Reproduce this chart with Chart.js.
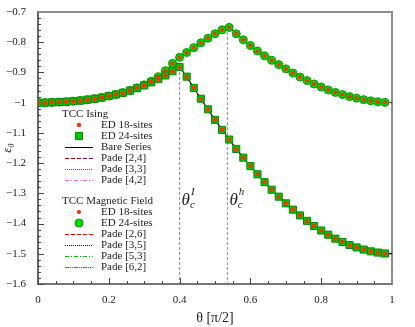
<!DOCTYPE html>
<html>
<head>
<meta charset="utf-8">
<script src="https://cdn.jsdelivr.net/npm/chart.js@4.4.1/dist/chart.umd.min.js"></script>
<style>
html, body { margin: 0; padding: 0; background: #fff; }
#wrap { width: 415px; height: 327px; }
</style>
</head>
<body>
<div id="wrap"><canvas id="chart"></canvas></div>
<script>
// theta in units of pi/2
var theta = [0, 0.02, 0.04, 0.06, 0.08, 0.1, 0.12, 0.14, 0.16, 0.18,
    0.2, 0.22, 0.24, 0.26, 0.28, 0.3, 0.32, 0.34, 0.36, 0.38,
    0.4, 0.42, 0.44, 0.46, 0.48, 0.5, 0.52, 0.54, 0.56, 0.58,
    0.6, 0.62, 0.64, 0.66, 0.68, 0.7, 0.72, 0.74, 0.76, 0.78,
    0.8, 0.82, 0.84, 0.86, 0.88, 0.9, 0.92, 0.94, 0.96, 0.98, 1];

// ground state energy, TCC Ising
var isingE = [-1.000, -1.000, -0.999, -0.998, -0.997, -0.995, -0.993, -0.990, -0.987, -0.983,
    -0.978, -0.973, -0.967, -0.960, -0.952, -0.943, -0.933, -0.922, -0.910, -0.896,
    -0.882, -0.914, -0.951, -0.987, -1.022, -1.057, -1.090, -1.122, -1.153, -1.182,
    -1.210, -1.237, -1.263, -1.288, -1.311, -1.333, -1.354, -1.373, -1.391, -1.408,
    -1.423, -1.437, -1.450, -1.461, -1.471, -1.479, -1.486, -1.492, -1.496, -1.499, -1.500];

// ground state energy, TCC magnetic field
var fieldE = [-1.000, -1.000, -0.999, -0.998, -0.997, -0.995, -0.993, -0.990, -0.987, -0.983,
    -0.978, -0.973, -0.967, -0.960, -0.951, -0.941, -0.929, -0.914, -0.894, -0.870,
    -0.850, -0.834, -0.818, -0.802, -0.787, -0.772, -0.759, -0.751, -0.772, -0.792,
    -0.811, -0.829, -0.845, -0.860, -0.874, -0.888, -0.902, -0.915, -0.927, -0.938,
    -0.948, -0.958, -0.966, -0.973, -0.980, -0.985, -0.990, -0.994, -0.997, -0.999, -1.000];

var nED = 50; // ED points stop at 0.98
var thetaCrit = [0.4, 0.535];
var energyCrit = [-0.882, -0.75];
var critNames = ['I', 'h'];

var isingLabels = ['ED 18-sites', 'ED 24-sites', 'Bare Series', 'Pade [2,4]', 'Pade [3,3]', 'Pade [4,2]'];
var fieldLabels = ['ED 18-sites', 'ED 24-sites', 'Pade [2,6]', 'Pade [3,5]', 'Pade [5,3]', 'Pade [6,2]'];

var xTicks = [0, 0.2, 0.4, 0.6, 0.8, 1];
var yTicks = [-0.7, -0.8, -0.9, -1, -1.1, -1.2, -1.3, -1.4, -1.5, -1.6];

var serif = "'Liberation Serif', 'DejaVu Serif', serif";

function pts(ys, n) {
    var out = [];
    for (var i = 0; i < n; i++) out.push({ x: theta[i], y: ys[i] });
    return out;
}

function edSet(label, group, ys, style, r, fill, border) {
    return {
        label: label, group: group, data: pts(ys, nED), showLine: false,
        pointStyle: style, pointRadius: r, pointBackgroundColor: fill,
        pointBorderColor: border, pointBorderWidth: 1, order: r > 3 ? 5 : 2
    };
}

function lineSet(label, group, ys, color, dash) {
    return {
        label: label, group: group, data: pts(ys, theta.length), showLine: true,
        borderColor: color, borderWidth: 1, borderDash: dash, pointRadius: 0,
        fill: false, order: 6
    };
}

var datasets = [
    edSet(isingLabels[0], 'TCC Ising', isingE, 'rect', 2, '#ff3000', '#ff3000'),
    edSet(isingLabels[1], 'TCC Ising', isingE, 'rect', 5, '#00c800', '#008a00'),
    lineSet(isingLabels[2], 'TCC Ising', isingE, '#000000', []),
    lineSet(isingLabels[3], 'TCC Ising', isingE, '#a00000', [4, 2]),
    lineSet(isingLabels[4], 'TCC Ising', isingE, '#009a00', [1, 1]),
    lineSet(isingLabels[5], 'TCC Ising', isingE, '#ff5fc8', [4, 2, 1, 2]),
    edSet(fieldLabels[0], 'TCC Magnetic Field', fieldE, 'circle', 1.6, '#ff3000', '#ff3000'),
    edSet(fieldLabels[1], 'TCC Magnetic Field', fieldE, 'circle', 4, '#00d800', '#009a00'),
    lineSet(fieldLabels[2], 'TCC Magnetic Field', fieldE, '#ff0000', [4, 2]),
    lineSet(fieldLabels[3], 'TCC Magnetic Field', fieldE, '#0000ff', [1, 1]),
    lineSet(fieldLabels[4], 'TCC Magnetic Field', fieldE, '#00c000', [4, 2, 1, 2]),
    lineSet(fieldLabels[5], 'TCC Magnetic Field', fieldE, '#ff00ff', [4, 1, 1, 1, 1, 1])
];

// dashed markers of the critical points
for (var k = 0; k < thetaCrit.length; k++) {
    datasets.push({
        label: 'crit' + k, data: [{ x: thetaCrit[k], y: energyCrit[k] }, { x: thetaCrit[k], y: -1.6 }],
        showLine: true, borderColor: '#8a8a8a', borderWidth: 1, borderDash: [3, 2],
        pointRadius: 0, order: 8
    });
}

function fmt(v) {
    var r = Math.round(v * 10) / 10;
    return (r < 0 ? '\u2212' : '') + Math.abs(r);
}

// inward major/minor ticks and the box frame
var frameTicks = {
    id: 'frameTicks',
    beforeDatasetsDraw: function (chart) {
        var ctx = chart.ctx, a = chart.chartArea;
        var xs = chart.scales.x, ys = chart.scales.y;
        ctx.save();
        ctx.strokeStyle = '#444';
        ctx.lineWidth = 1;
        ctx.beginPath();
        for (var i = 0; i <= 20; i++) {
            var px = Math.round(xs.getPixelForValue(i * 0.05)) + 0.5;
            var len = i % 4 == 0 ? 6 : 3;
            ctx.moveTo(px, a.bottom); ctx.lineTo(px, a.bottom - len);
        }
        for (var j = 0; j <= 45; j++) {
            var py = Math.round(ys.getPixelForValue(-1.6 + j * 0.02)) + 0.5;
            var len2 = j % 5 == 0 ? 6 : 3;
            ctx.moveTo(a.left, py); ctx.lineTo(a.left + len2, py);
        }
        ctx.stroke();
        ctx.strokeStyle = '#8c8c8c';
        ctx.lineWidth = 2;
        ctx.beginPath();
        ctx.moveTo(a.left, a.top); ctx.lineTo(a.right, a.top); ctx.lineTo(a.right, a.bottom);
        ctx.stroke();
        ctx.restore();
    }
};

// grouped legend and the theta_c labels
var extras = {
    id: 'extras',
    afterDraw: function (chart) {
        var ctx = chart.ctx;
        ctx.save();
        ctx.fillStyle = '#222';
        ctx.font = '11px ' + serif;
        ctx.textBaseline = 'middle';
        var groups = [['TCC Ising', 114], ['TCC Magnetic Field', 201]];
        groups.forEach(function (g) {
            ctx.fillStyle = '#222';
            ctx.textAlign = 'left';
            ctx.fillText(g[0], 62, g[1]);
            var y = g[1] + 11;
            chart.data.datasets.forEach(function (ds) {
                if (ds.group != g[0]) return;
                if (ds.showLine) {
                    ctx.strokeStyle = ds.borderColor;
                    ctx.lineWidth = 1;
                    ctx.setLineDash(ds.borderDash);
                    ctx.beginPath();
                    ctx.moveTo(65, y + 0.5); ctx.lineTo(93, y + 0.5);
                    ctx.stroke();
                    ctx.setLineDash([]);
                } else {
                    ctx.fillStyle = ds.pointBackgroundColor;
                    ctx.strokeStyle = ds.pointBorderColor;
                    ctx.lineWidth = 1;
                    Chart.helpers.drawPoint(ctx, { pointStyle: ds.pointStyle, radius: ds.pointRadius, rotation: 0, borderWidth: 1 }, 79, y);
                }
                ctx.fillStyle = '#222';
                ctx.fillText(ds.label, 101, y);
                y += 11;
            });
        });
        // theta_c labels next to the dashed lines
        var xs = chart.scales.x, ys = chart.scales.y;
        ctx.textBaseline = 'alphabetic';
        for (var k = 0; k < thetaCrit.length; k++) {
            var px = xs.getPixelForValue(thetaCrit[k]) + 2;
            var py = ys.getPixelForValue(-1.34);
            ctx.fillStyle = '#222';
            ctx.font = 'italic 17px ' + serif;
            ctx.fillText('\u03b8', px, py);
            var w = ctx.measureText('\u03b8').width;
            ctx.font = 'italic 11px ' + serif;
            ctx.fillText('c', px + w, py + 3);
            ctx.fillText(critNames[k], px + w + 1, py - 10);
        }
        ctx.restore();
    }
};

var ctx = document.getElementById('chart').getContext('2d');
window.myChart = new Chart(ctx, {
    type: 'scatter',
    data: { datasets: datasets },
    options: {
        responsive: true,
        maintainAspectRatio: false,
        animation: false,
        layout: { padding: { top: 12, right: 23, left: 0, bottom: 0 } },
        plugins: { legend: { display: false }, tooltip: { enabled: false } },
        scales: {
            x: {
                type: 'linear', min: 0, max: 1,
                afterBuildTicks: function (s) { s.ticks = xTicks.map(function (v) { return { value: v }; }); },
                afterFit: function (s) { s.height = 43; },
                grid: { display: false },
                border: { display: true, color: '#777', width: 2 },
                ticks: {
                    color: '#222', padding: 2, maxRotation: 0,
                    font: { family: serif, size: 11 },
                    callback: function (v) { return fmt(v); }
                },
                title: { display: true, text: '\u03b8 [\u03c0/2]', color: '#222', padding: 0, font: { family: serif, size: 14 } }
            },
            y: {
                type: 'linear', min: -1.6, max: -0.7,
                afterBuildTicks: function (s) { s.ticks = yTicks.map(function (v) { return { value: v }; }); },
                afterFit: function (s) { s.width = 38; },
                grid: { display: false },
                border: { display: true, color: '#666', width: 2 },
                ticks: {
                    color: '#222', padding: 4,
                    font: { family: serif, size: 11 },
                    callback: function (v) { return fmt(v); }
                },
                title: { display: true, text: '\u03b5\u2080', color: '#222', padding: 0, font: { family: serif, size: 13, style: 'italic' } }
            }
        }
    },
    plugins: [frameTicks, extras]
});
</script>
</body>
</html>
